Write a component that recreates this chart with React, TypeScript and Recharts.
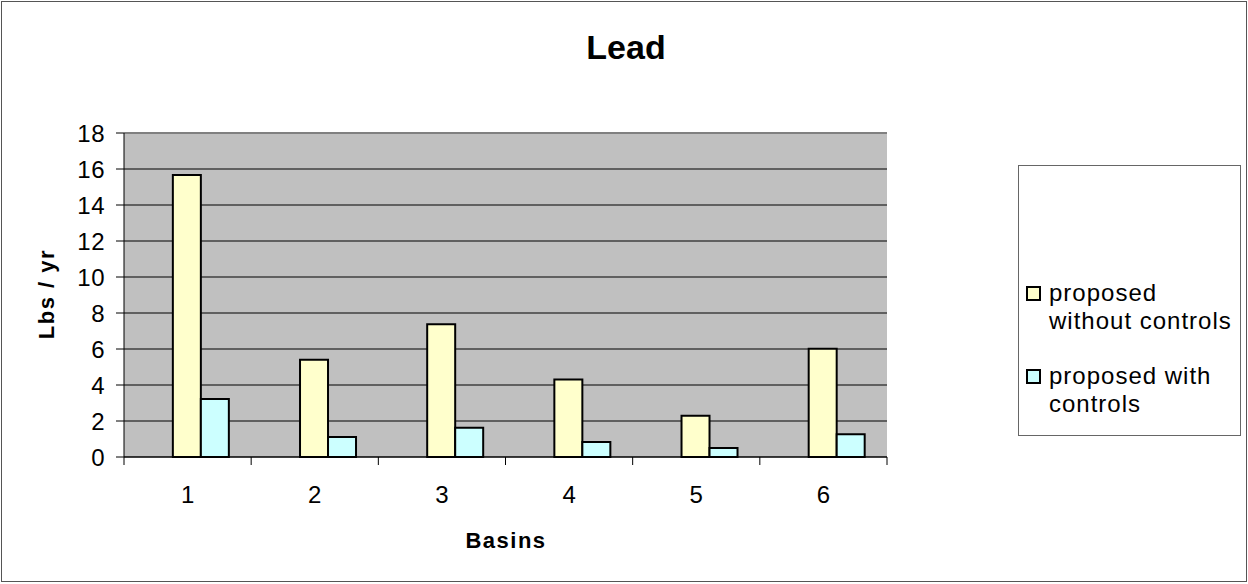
import { BarChart, Bar, XAxis, YAxis, CartesianGrid, ReferenceLine } from "recharts";

const basins = ["1", "2", "3", "4", "5", "6"];
const withoutControls = [15.67, 5.4, 7.37, 4.31, 2.29, 6.02];
const withControls = [3.22, 1.11, 1.63, 0.83, 0.5, 1.26];
const yTicks = [0, 2, 4, 6, 8, 10, 12, 14, 16, 18];

const seriesNames = ["proposed\nwithout controls", "proposed with\ncontrols"];
const seriesColors = ["#FFFFCC", "#CCFFFF"];

const data = basins.map((b, i) => ({
  basin: b,
  without: withoutControls[i],
  with: withControls[i],
}));

const FONT = "'Liberation Sans', Arial, sans-serif";

function BasinTick(props: any) {
  const { x, y, payload, index } = props;
  const half = payload?.offset || 63.6;
  return (
    <g>
      <line x1={x - half} x2={x - half} y1={y} y2={y + 8} stroke="#000" />
      {index === basins.length - 1 && (
        <line x1={x + half} x2={x + half} y1={y} y2={y + 8} stroke="#000" />
      )}
      <text x={x} y={y + 46} textAnchor="middle" fontSize={24} fill="#000" fontFamily={FONT}>
        {payload.value}
      </text>
    </g>
  );
}

export default function App() {
  return (
    <div
      style={{
        position: "absolute",
        left: 0,
        top: 0,
        width: 1248,
        height: 584,
        background: "#fff",
        fontFamily: FONT,
      }}
    >
      <div
        style={{
          position: "absolute",
          left: 1,
          top: 1,
          width: 1244,
          height: 579,
          border: "1px solid #555",
        }}
      />
      <div
        style={{
          position: "absolute",
          left: 0,
          width: 1252,
          top: 29.5,
          height: 34,
          lineHeight: "34px",
          fontSize: 34,
          fontWeight: "bold",
          textAlign: "center",
        }}
      >
        Lead
      </div>

      <BarChart
        width={1248}
        height={584}
        data={data}
        margin={{ top: 133, right: 361, bottom: 67, left: 0 }}
        barGap={0}
        barCategoryGap="16.4%"
        style={{ position: "absolute", left: 0, top: 0 }}
      >
        <CartesianGrid vertical={false} stroke="#000" fill="#C0C0C0" fillOpacity={1} />
        <XAxis
          dataKey="basin"
          height={60}
          tickLine={false}
          tickSize={0}
          tickMargin={0}
          axisLine={{ stroke: "#000" }}
          tick={<BasinTick />}
          interval={0}
          label={(p: any) => (
            <text
              x={506}
              y={548}
              textAnchor="middle"
              fontSize={22}
              fontWeight="bold"
              letterSpacing={1.5}
              fontFamily={FONT}
              fill="#000"
            >
              Basins
            </text>
          )}
        />
        <YAxis
          width={124}
          domain={[0, 18]}
          ticks={yTicks}
          interval={0}
          tickSize={8}
          tickMargin={11}
          axisLine={{ stroke: "#000" }}
          tickLine={{ stroke: "#000" }}
          tick={{ fontSize: 24, fill: "#000", fontFamily: FONT, letterSpacing: 0.5 }}
          label={() => (
            <text
              x={54}
              y={294}
              transform="rotate(-90, 54, 294)"
              textAnchor="middle"
              fontSize={22}
              fontWeight="bold"
              letterSpacing={1.5}
              fontFamily={FONT}
              fill="#000"
            >
              Lbs / yr
            </text>
          )}
        />
        <YAxis
          yAxisId="r"
          orientation="right"
          width={0}
          domain={[0, 18]}
          tick={false}
          tickLine={false}
          axisLine={{ stroke: "#808080", strokeWidth: 2 }}
        />
        <ReferenceLine y={18} stroke="#808080" strokeWidth={2} />
        <Bar dataKey="blank" isAnimationActive={false} legendType="none" />
        <Bar
          dataKey="without"
          fill={seriesColors[0]}
          stroke="#000"
          strokeWidth={2}
          isAnimationActive={false}
        />
        <Bar
          dataKey="with"
          fill={seriesColors[1]}
          stroke="#000"
          strokeWidth={2}
          isAnimationActive={false}
        />
      </BarChart>

      <div
        style={{
          position: "absolute",
          left: 1018,
          top: 165,
          width: 223,
          height: 271,
          border: "1px solid #666",
          boxSizing: "border-box",
        }}
      >
        {seriesNames.map((name, i) => (
          <div
            key={name}
            style={{
              position: "absolute",
              left: 0,
              top: 113 + i * 83,
              width: 223,
            }}
          >
            <div
              style={{
                position: "absolute",
                left: 7,
                top: 7,
                width: 15,
                height: 15,
                boxSizing: "border-box",
                border: "2px solid #000",
                background: seriesColors[i],
              }}
            />
            <div
              style={{
                position: "absolute",
                left: 30,
                top: 0,
                fontSize: 24,
                lineHeight: "27.5px",
                letterSpacing: 1,
                whiteSpace: "pre",
                color: "#000",
              }}
            >
              {name}
            </div>
          </div>
        ))}
      </div>
    </div>
  );
}
